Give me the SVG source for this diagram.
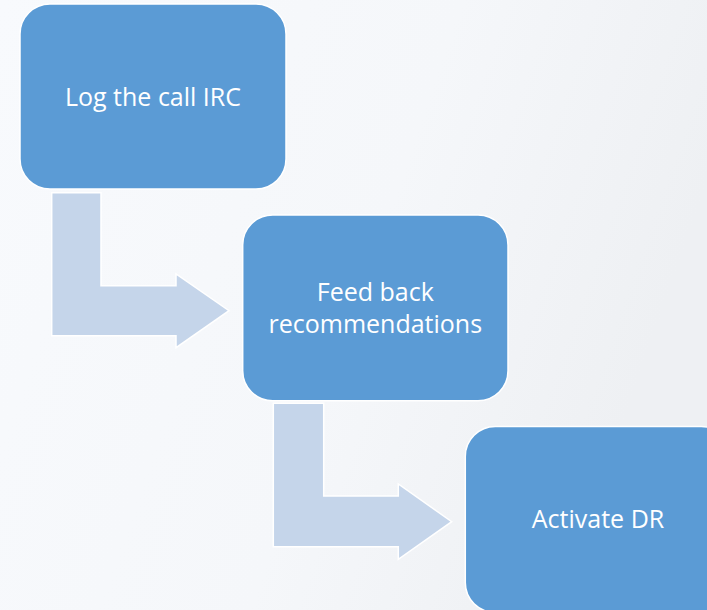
<svg xmlns="http://www.w3.org/2000/svg" width="707" height="610" viewBox="0 0 707 610">
<defs>
<linearGradient id="bg" x1="0" y1="0" x2="1" y2="0.3">
<stop offset="0" stop-color="#f8fafd"/>
<stop offset="0.6" stop-color="#f5f7fa"/>
<stop offset="1" stop-color="#eef0f3"/>
</linearGradient>
</defs>
<style>
.box{fill:#5b9bd5;stroke:#ffffff;stroke-width:1.5}
.arr{fill:#c5d5ea;stroke:#ffffff;stroke-width:1.5}
.lbl{font-family:"Open Sans","Liberation Sans",sans-serif;font-size:25px;fill:#ffffff;text-anchor:middle}
</style>
<rect x="0" y="0" width="707" height="610" fill="url(#bg)"/>
<g id="connectors">
<path class="arr" d="M51.7,192.7 L101,192.7 L101,285.7 L176,285.7 L176,274 L229,310.7 L176,347.7 L176,335.7 L51.7,335.7 Z"/>
<path class="arr" d="M273.3,403.3 L323.7,403.3 L323.7,496 L398.3,496 L398.3,484 L451.7,521.7 L398.3,559.3 L398.3,546.7 L273.3,546.7 Z"/>
</g>
<g id="node1">
<rect class="box" x="20" y="4" width="266" height="185" rx="30" ry="30"/>
<text class="lbl" x="153" y="106">Log the call IRC</text>
</g>
<g id="node2">
<rect class="box" x="242.7" y="215" width="265.3" height="185.7" rx="30" ry="30"/>
<text class="lbl" x="375.3" y="300.7">Feed back</text>
<text class="lbl" x="375.3" y="333.3">recommendations</text>
</g>
<g id="node3">
<rect class="box" x="465.3" y="426.5" width="266" height="186" rx="30" ry="30"/>
<text class="lbl" x="598" y="528.3">Activate DR</text>
</g>
</svg>
